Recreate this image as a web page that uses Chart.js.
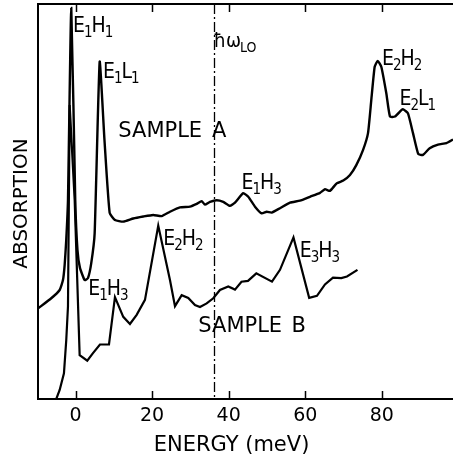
<!DOCTYPE html>
<html>
<head>
<meta charset="utf-8">
<script src="https://cdn.jsdelivr.net/npm/chart.js@4/dist/chart.umd.min.js"></script>
<style>
html,body{margin:0;padding:0;background:#fff;}
#wrap{width:453px;height:461px;position:relative;}
</style>
</head>
<body>
<div id="wrap"><canvas id="c"></canvas></div>
<script>
// ---- data (energy in meV, absorption in arbitrary units 0-100) ----
const sampleAEnergy = [-9.68,-6.34,-4.14,-3.28,-2.84,-2.42,-1.97,-1.11,-0.07,0.51,1.16,2.39,3.25,4.11,5.00,6.31,7.56,8.92,10.30,12.47,15.08,17.70,20.31,22.50,24.67,27.28,29.90,31.65,32.95,33.81,35.12,36.87,38.59,40.34,41.65,43.82,45.13,46.88,48.63,49.93,51.24,53.41,56.02,58.63,61.24,63.86,65.16,66.47,68.22,69.94,71.69,73.34,75.09,76.40,77.26,78.14,78.93,79.87,81.18,82.14,83.45,85.20,85.67,86.84,88.15,89.53,90.76,92.51,94.68,96.90,98.60];
const sampleAAbs = [23.0,25.5,27.6,30.1,33.9,40.3,50.4,99.0,50.4,37.7,33.2,30.1,30.6,34.4,42.0,85.4,65.6,47.1,45.3,44.9,45.7,46.2,46.6,46.3,47.4,48.5,48.7,49.4,50.1,49.2,49.9,50.3,49.9,48.9,49.7,52.1,51.2,48.7,47.0,47.4,47.2,48.3,49.7,50.2,51.2,52.2,53.1,52.7,54.6,55.3,56.7,59.2,63.0,67.3,75.7,84.1,85.6,84.1,77.4,71.5,71.5,73.2,73.3,72.3,67.3,62.0,61.8,63.5,64.4,64.8,65.7];
const sampleBEnergy = [-5.03,-4.14,-3.02,-2.42,-1.97,-1.53,-0.22,1.08,3.07,4.56,6.38,8.74,10.30,12.47,14.22,15.97,18.14,21.61,24.67,25.98,27.73,29.45,31.20,32.51,34.26,35.98,37.73,39.90,41.65,43.35,45.05,47.22,51.32,53.41,56.93,61.03,63.07,65.16,67.25,69.42,70.91,73.65];
const sampleBAbs = [0,2.3,6.5,14.9,23.4,74.4,50.4,11.1,9.7,11.6,13.8,13.8,25.8,20.8,19.0,21.3,25.1,43.9,30.1,23.5,26.3,25.6,23.8,23.3,24.2,25.5,27.6,28.5,27.7,29.7,29.9,31.8,29.7,32.7,40.9,25.6,26.1,29.0,30.7,30.6,31.0,32.7];
const xTicks = [0,20,40,60,80];
const phononEnergy = 36.1; // ħω_LO marker

const pts = (xs, ys) => xs.map((x, i) => ({x: x, y: ys[i]}));

const FONT = '"DejaVu Sans", sans-serif';
const LFONT = '"DejaVu Sans Condensed", "DejaVu Sans", sans-serif';

function drawLabel(ctx, x, base, parts, mainSize, subSize) {
  let cx = x;
  for (const [t, sub] of parts) {
    ctx.font = (sub ? subSize : mainSize) + 'px ' + LFONT;
    ctx.fillText(t, cx, sub ? base + 5 : base);
    cx += ctx.measureText(t).width - 1;
  }
}

const decor = {
  id: 'decor',
  afterDraw(chart) {
    const ctx = chart.ctx, a = chart.chartArea;
    const xs = chart.scales.x;
    ctx.save();
    ctx.strokeStyle = '#000';
    ctx.fillStyle = '#000';
    ctx.lineWidth = 2;
    // top frame line
    ctx.beginPath();
    ctx.moveTo(a.left, a.top); ctx.lineTo(a.right, a.top);
    ctx.stroke();
    // inward ticks
    ctx.lineWidth = 1.5;
    for (const v of xTicks) {
      const px = Math.round(xs.getPixelForValue(v)) + 0.5;
      ctx.beginPath();
      ctx.moveTo(px, a.bottom); ctx.lineTo(px, a.bottom - 8);
      ctx.moveTo(px, a.top); ctx.lineTo(px, a.top + 8);
      ctx.stroke();
    }
    // dash-dot phonon line
    const pp = Math.round(xs.getPixelForValue(phononEnergy)) + 0.5;
    ctx.lineWidth = 1.3;
    ctx.setLineDash([10, 3, 2, 3]);
    ctx.beginPath();
    ctx.moveTo(pp, a.top); ctx.lineTo(pp, a.bottom);
    ctx.stroke();
    ctx.setLineDash([]);

    ctx.textBaseline = 'alphabetic';
    ctx.textAlign = 'left';
    // axis titles
    ctx.font = '21px ' + FONT;
    ctx.textAlign = 'center';
    ctx.fillText('ENERGY (meV)', 231.5, 451);
    ctx.save();
    ctx.translate(27, 203.5);
    ctx.rotate(-Math.PI / 2);
    ctx.font = '20px ' + FONT;
    ctx.fillText('ABSORPTION', 0, 0);
    ctx.restore();
    ctx.textAlign = 'left';

    // sample names
    ctx.font = '21px ' + FONT;
    ctx.fillText('SAMPLE', 118.3, 136.7);
    ctx.fillText('A', 212, 136.7);
    ctx.fillText('SAMPLE', 198.3, 331.7);
    ctx.fillText('B', 291.5, 331.7);

    // peak labels
    const M = 21, S = 15;
    drawLabel(ctx, 73, 31.7, [['E',0],['1',1],['H',0],['1',1]], M, S);
    drawLabel(ctx, 103, 78.3, [['E',0],['1',1],['L',0],['1',1]], M, S);
    drawLabel(ctx, 382, 65, [['E',0],['2',1],['H',0],['2',1]], M, S);
    drawLabel(ctx, 399.5, 105, [['E',0],['2',1],['L',0],['1',1]], M, S);
    drawLabel(ctx, 241.5, 189, [['E',0],['1',1],['H',0],['3',1]], M, S);
    drawLabel(ctx, 88.3, 295, [['E',0],['1',1],['H',0],['3',1]], M, S);
    drawLabel(ctx, 163.3, 245, [['E',0],['2',1],['H',0],['2',1]], M, S);
    drawLabel(ctx, 299.7, 257, [['E',0],['3',1],['H',0],['3',1]], M, S);
    drawLabel(ctx, 213.5, 46.7, [['ħω',0],['LO',1]], 20, 14);
    ctx.restore();
  }
};

new Chart(document.getElementById('c'), {
  type: 'line',
  data: {
    datasets: [
      {label: 'Sample A', data: pts(sampleAEnergy, sampleAAbs), borderColor: '#000', borderWidth: 2.4,
       pointRadius: 0, tension: 0.15, fill: false},
      {label: 'Sample B', data: pts(sampleBEnergy, sampleBAbs), borderColor: '#000', borderWidth: 2.2,
       pointRadius: 0, tension: 0, fill: false}
    ]
  },
  options: {
    responsive: true,
    maintainAspectRatio: false,
    animation: false,
    events: [],
    layout: {padding: {top: 4, right: 0, left: 0, bottom: 0}},
    plugins: {legend: {display: false}, tooltip: {enabled: false}},
    scales: {
      x: {
        type: 'linear', min: -9.8, max: 98.6, position: 'bottom',
        grid: {display: false, drawTicks: false},
        border: {display: true, color: '#000', width: 2},
        ticks: {color: '#000', font: {family: FONT, size: 19}, padding: 6, maxRotation: 0},
        afterBuildTicks: s => { s.ticks = xTicks.map(v => ({value: v})); },
        afterFit: s => { s.height = 62; }
      },
      y: {
        min: 0, max: 100,
        grid: {display: false, drawTicks: false},
        border: {display: true, color: '#000', width: 2},
        ticks: {display: false},
        afterFit: s => { s.width = 38; }
      }
    }
  },
  plugins: [decor]
});
</script>
</body>
</html>
